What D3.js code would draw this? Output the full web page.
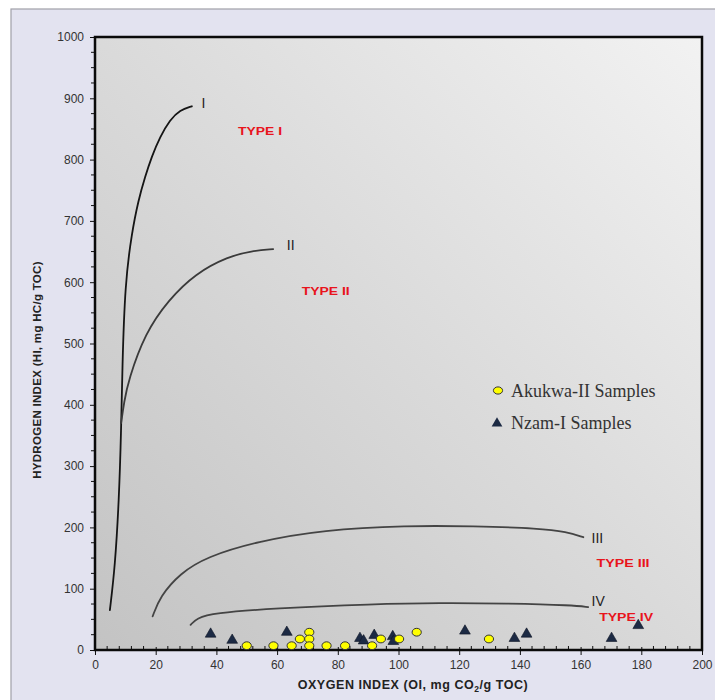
<!DOCTYPE html>
<html>
<head>
<meta charset="utf-8">
<script src="https://cdn.jsdelivr.net/npm/d3@7"></script>
<style>
  html, body { margin: 0; padding: 0; background: #ffffff; }
  svg { display: block; }
</style>
</head>
<body>
<svg id="chart" width="715" height="700"></svg>
<script>
// Akukwa-II samples (Oxygen Index vs Hydrogen Index)
const akukwaOI = [50, 58.8, 64.8, 67.5, 70.6, 70.6, 70.6, 76.3, 82.4, 91.3, 94.2, 100.2, 106, 129.8];
const akukwaHI = [7, 7, 7, 18, 29, 18, 7, 7, 7, 7, 18, 18, 29, 18];

// Nzam-I samples
const nzamOI = [38.1, 45.2, 63.2, 87.3, 88.5, 92, 98.1, 98.3, 121.9, 138.2, 142.2, 170.2, 179];
const nzamHI = [26, 16, 29, 19, 15, 24, 22, 14, 31, 19, 26, 19, 40];

// Kerogen evolution pathways (OI, HI), used as spline control points
const curveI_OI  = [4.9, 6.6, 7.9, 8.6, 9.0, 9.9, 12.1, 14.3, 16.5, 18.7, 21.4, 24.7, 28, 31.9];
const curveI_HI  = [65, 136, 245, 354, 462, 598, 680, 734, 772, 805, 837, 865, 881, 887];
const curveII_OI = [8.6, 9.6, 11, 16.5, 24.2, 33, 43.9, 51.6, 58.7];
const curveII_HI = [370, 405, 440, 517, 571, 614, 642, 651, 654];
const curveIII_OI = [19, 21.4, 28, 36.8, 53.3, 75.2, 102.7, 124.6, 146.6, 155.4, 160.9];
const curveIII_HI = [55, 87, 125, 152, 177, 196, 203, 202, 198.5, 193, 184];
const curveIV_OI = [31.5, 33.5, 39, 58.7, 91.7, 113.7, 135.6, 157.6, 162.5];
const curveIV_HI = [41, 52, 60, 68, 75, 77, 76, 73, 70];

// Curve end labels and kerogen type labels
const curveNames = ["I", "II", "III", "IV"];
const curveLabelOI = [35.1, 63.2, 163.6, 163.6];
const curveLabelHI = [892, 661, 182, 79];
const typeNames = ["TYPE I", "TYPE II", "TYPE III", "TYPE IV"];
const typeOI = [54.4, 76, 174, 175];
const typeHI = [847, 586, 142, 54];
const typeWidths = [44, 48, 53, 54];

// Axis ticks
const xTicks = [0, 20, 40, 60, 80, 100, 120, 140, 160, 180, 200];
const yTicks = [0, 100, 200, 300, 400, 500, 600, 700, 800, 900, 1000];

const svg = d3.select("#chart");
const L = 95, R = 702, T = 37, B = 650;

const x = d3.scaleLinear().domain([0, 200]).range([L, R]);
const y = d3.scaleLinear().domain([0, 1000]).range([B, T]);

const defs = svg.append("defs");
const grad = defs.append("linearGradient").attr("id", "plotBg")
  .attr("x1", 0).attr("y1", 1).attr("x2", 1).attr("y2", 0);
grad.append("stop").attr("offset", 0).attr("stop-color", "#c3c3c3");
grad.append("stop").attr("offset", 0.5).attr("stop-color", "#dadada");
grad.append("stop").attr("offset", 1).attr("stop-color", "#f2f2f2");

// Outer panel
svg.append("rect").attr("x", 11).attr("y", 9).attr("width", 720).attr("height", 700)
  .attr("fill", "#e3e3f0").attr("stroke", "#a0a0a8").attr("stroke-width", 1.2);

// Plot area
svg.append("rect").attr("x", L).attr("y", T).attr("width", R - L).attr("height", B - T)
  .attr("fill", "url(#plotBg)");

// Minor ticks
const minorX = d3.range(0, 201, 4).filter(v => v % 20 !== 0);
const minorY = d3.range(0, 1001, 25).filter(v => v % 100 !== 0);
svg.append("g").selectAll("line").data(minorX).join("line")
  .attr("x1", d => x(d)).attr("x2", d => x(d))
  .attr("y1", B).attr("y2", B - 4)
  .attr("stroke", "#111").attr("stroke-width", 1);
svg.append("g").selectAll("line").data(minorY).join("line")
  .attr("x1", L).attr("x2", L - 4)
  .attr("y1", d => y(d)).attr("y2", d => y(d))
  .attr("stroke", "#111").attr("stroke-width", 1);

// Axes
const xAxis = svg.append("g").attr("transform", `translate(0,${B})`)
  .call(d3.axisBottom(x).tickValues(xTicks).tickSize(5).tickPadding(5).tickFormat(d3.format("d")));
const yAxis = svg.append("g").attr("transform", `translate(${L},0)`)
  .call(d3.axisLeft(y).tickValues(yTicks).tickSize(5).tickPadding(6).tickFormat(d3.format("d")));
[xAxis, yAxis].forEach(g => {
  g.select(".domain").remove();
  g.selectAll(".tick line").attr("stroke", "#111").attr("stroke-width", 1);
  g.selectAll(".tick text").attr("font-family", "Liberation Sans, Arial, sans-serif")
    .attr("font-size", 12).attr("fill", "#333");
});
xAxis.selectAll(".tick line").attr("y1", -3);

// Plot frame
svg.append("rect").attr("x", L).attr("y", T).attr("width", R - L).attr("height", B - T)
  .attr("fill", "none").attr("stroke", "#0a0a0a").attr("stroke-width", 2.5);

// Evolution curves, smoothed with a B-spline through the control points
const line = d3.line().x(d => x(d[0])).y(d => y(d[1])).curve(d3.curveBasis);
const curves = [
  [curveI_OI, curveI_HI, "#151515"],
  [curveII_OI, curveII_HI, "#3a3a3a"],
  [curveIII_OI, curveIII_HI, "#444444"],
  [curveIV_OI, curveIV_HI, "#444444"]
];
curves.forEach(([xs, ys, col]) => {
  svg.append("path").datum(xs.map((v, i) => [v, ys[i]]))
    .attr("d", line).attr("fill", "none").attr("stroke", col).attr("stroke-width", 1.8)
    .attr("stroke-linecap", "round");
});

// Curve end labels
svg.append("g").selectAll("text").data(curveNames).join("text")
  .attr("x", (d, i) => x(curveLabelOI[i]))
  .attr("y", (d, i) => y(curveLabelHI[i]))
  .attr("dy", "0.35em")
  .attr("font-family", "Liberation Sans, Arial, sans-serif")
  .attr("font-size", 14).attr("fill", "#222")
  .text(d => d);

// Kerogen type labels
svg.append("g").selectAll("text").data(typeNames).join("text")
  .attr("x", (d, i) => x(typeOI[i]))
  .attr("y", (d, i) => y(typeHI[i]))
  .attr("dy", "0.35em")
  .attr("text-anchor", "middle")
  .attr("font-family", "Liberation Sans, Arial, sans-serif")
  .attr("font-weight", "bold").attr("font-size", 11).attr("fill", "#e8141c")
  .attr("textLength", (d, i) => typeWidths[i]).attr("lengthAdjust", "spacingAndGlyphs")
  .text(d => d);

// Sample markers
const tri = d3.symbol().type(d3.symbolTriangle).size(50);
svg.append("g").selectAll("path").data(nzamOI.map((v, i) => [v, nzamHI[i]])).join("path")
  .attr("d", tri)
  .attr("transform", d => `translate(${x(d[0])},${y(d[1])})`)
  .attr("fill", "#1c2a44").attr("stroke", "#0d1424").attr("stroke-width", 0.6);

svg.append("g").selectAll("ellipse").data(akukwaOI.map((v, i) => [v, akukwaHI[i]])).join("ellipse")
  .attr("cx", d => x(d[0])).attr("cy", d => y(d[1]))
  .attr("rx", 4.6).attr("ry", 3.9)
  .attr("fill", "#ffff00").attr("stroke", "#333").attr("stroke-width", 1);

// Legend
const legend = svg.append("g");
legend.append("ellipse").attr("cx", 498).attr("cy", 390.5).attr("rx", 4.6).attr("ry", 3.6)
  .attr("fill", "#ffff00").attr("stroke", "#333").attr("stroke-width", 1);
legend.append("path").attr("d", tri).attr("transform", "translate(497,423.5)")
  .attr("fill", "#1c2a44");
legend.append("text").attr("x", 511).attr("y", 397)
  .attr("font-family", "Liberation Serif, Times New Roman, serif")
  .attr("font-size", 18).attr("fill", "#333").text("Akukwa-II Samples");
legend.append("text").attr("x", 511).attr("y", 429)
  .attr("font-family", "Liberation Serif, Times New Roman, serif")
  .attr("font-size", 18).attr("fill", "#333").text("Nzam-I Samples");

// Axis titles
const xTitle = svg.append("text").attr("x", 413).attr("y", 689)
  .attr("text-anchor", "middle")
  .attr("font-family", "Liberation Sans, Arial, sans-serif")
  .attr("font-weight", "bold").attr("font-size", 12.5).attr("letter-spacing", 0.55)
  .attr("fill", "#222");
xTitle.append("tspan").text("OXYGEN INDEX (OI, mg CO");
xTitle.append("tspan").attr("font-size", 8.5).attr("dy", 3).text("2");
xTitle.append("tspan").attr("dy", -3).text("/g TOC)");

svg.append("text")
  .attr("transform", "translate(41,370) rotate(-90)")
  .attr("text-anchor", "middle")
  .attr("font-family", "Liberation Sans, Arial, sans-serif")
  .attr("font-weight", "bold").attr("font-size", 11.5).attr("letter-spacing", 0.3)
  .attr("fill", "#222")
  .text("HYDROGEN INDEX (HI, mg HC/g TOC)");
</script>
</body>
</html>
